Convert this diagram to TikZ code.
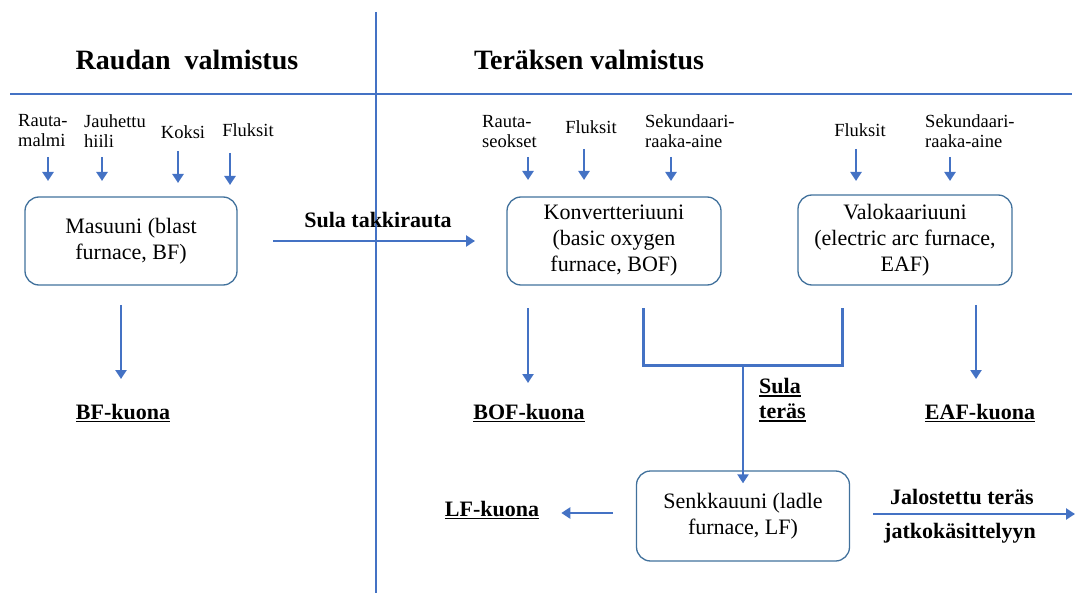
\documentclass[tikz,border=0pt]{standalone}
\usepackage{fontspec}
\setmainfont{Liberation Serif}
\newcommand{\myul}[1]{\setbox0\hbox{#1}\leavevmode\rlap{\rule[-3pt]{\wd0}{1.2pt}}\box0}
\usetikzlibrary{arrows.meta}
\definecolor{lineblue}{HTML}{4472C4}
\definecolor{boxblue}{HTML}{41719C}
\begin{document}
\begin{tikzpicture}[x=1pt,y=-1pt,
  arr/.style={lineblue, line width=2.5pt, -{Triangle[length=9pt,width=11pt]}},
  sep/.style={lineblue, line width=1.4pt},
  furnace/.style={draw=boxblue, line width=1.3pt, rounded corners=14pt, align=center,
     font=\fontsize{22}{26}\selectfont, inner sep=0pt},
  small/.style={align=left, font=\fontsize{18.5}{20}\selectfont, inner sep=0pt},
  titletext/.style={font=\bfseries\fontsize{28}{30}\selectfont, inner sep=0pt},
  slag/.style={font=\bfseries\fontsize{22}{25}\selectfont, inner sep=0pt},
]
\useasboundingbox (0,0) rectangle (1075,593);

% separators
\coordinate (hl) at (10,94);
\coordinate (hr) at (1072,94);
\coordinate (vt) at (376,12);
\coordinate (vb) at (376,593);
\draw[sep] (hl) -- (hr);
\draw[sep] (vt) -- (vb);

% titles
\node[titletext] (t1) at (187,60) {Raudan\ \ valmistus};
\node[titletext] (t2) at (589,60) {Teräksen valmistus};

% furnaces
\node[furnace, minimum width=212pt, minimum height=88pt] (bf) at (131,241) {Masuuni (blast\\furnace, BF)};
\node[furnace, minimum width=214pt, minimum height=88pt] (bof) at (614,241) {Konvertteriuuni\\(basic oxygen\\furnace, BOF)};
\node[furnace, minimum width=214pt, minimum height=90pt] (eaf) at (905,240) {Valokaariuuni\\(electric arc furnace,\\EAF)};
\node[furnace, minimum width=213pt, minimum height=90pt] (lf) at (743,516) {Senkkauuni (ladle\\furnace, LF)};

% inputs, iron making
\node[small, anchor=west] (rm) at (18,131) {Rauta-\\malmi};
\node[small, anchor=west] (jh) at (84,131) {Jauhettu\\hiili};
\node[small] (ko) at (183,132) {Koksi};
\node[small] (fl1) at (248,130) {Fluksit};
% inputs, BOF
\node[small, anchor=west] (rs) at (482,132) {Rauta-\\seokset};
\node[small] (fl2) at (591,127) {Fluksit};
\node[small, anchor=west] (sr1) at (645,131) {Sekundaari-\\raaka-aine};
% inputs, EAF
\node[small] (fl3) at (860,130) {Fluksit};
\node[small, anchor=west] (sr2) at (925,131) {Sekundaari-\\raaka-aine};

% input arrows
\coordinate (rm-a) at (48,157);  \coordinate (rm-b) at (48,181);
\coordinate (jh-a) at (102,157); \coordinate (jh-b) at (102,181);
\coordinate (ko-a) at (178,151); \coordinate (ko-b) at (178,183);
\coordinate (fl1-a) at (230,153); \coordinate (fl1-b) at (230,185);
\coordinate (rs-a) at (528,157); \coordinate (rs-b) at (528,180);
\coordinate (fl2-a) at (584,149); \coordinate (fl2-b) at (584,180);
\coordinate (sr1-a) at (671,157); \coordinate (sr1-b) at (671,181);
\coordinate (fl3-a) at (856,149); \coordinate (fl3-b) at (856,181);
\coordinate (sr2-a) at (950,157); \coordinate (sr2-b) at (950,181);
\foreach \n in {rm,jh,ko,fl1,rs,fl2,sr1,fl3,sr2}{\draw[arr] (\n-a) -- (\n-b);}

% molten pig iron
\coordinate (pig-a) at (273,241);
\coordinate (pig-b) at (475,241);
\draw[arr] (pig-a) -- (pig-b);
\node[slag] (pig) at (378,220) {Sula takkirauta};

% slags
\node[slag] (bfs) at (123,413) {\myul{BF-kuona}};
\node[slag] (bofs) at (529,413) {\myul{BOF-kuona}};
\node[slag] (eafs) at (980,413) {\myul{EAF-kuona}};
\node[slag] (lfs) at (492,510) {\myul{LF-kuona}};

\coordinate (bfs-a) at (121,305); \coordinate (bfs-b) at (121,379);
\coordinate (bofs-a) at (528,308); \coordinate (bofs-b) at (528,383);
\coordinate (eafs-a) at (976,305); \coordinate (eafs-b) at (976,379);
\draw[arr] (bfs-a) -- (bfs-b);
\draw[arr] (bofs-a) -- (bofs-b);
\draw[arr] (eafs-a) -- (eafs-b);

% molten steel
\coordinate (bofR) at (643,308);
\coordinate (eafL) at (842,308);
\coordinate (junc) at (743,365);
\draw[lineblue, line width=3pt] (bofR) |- (junc) -| (eafL);
\draw[arr] (junc) -- ([yshift=-13pt]lf.north);
\node[slag, align=left, anchor=west] (st) at (759,400) {\myul{Sula}\\\myul{teräs}};

% ladle furnace outputs
\coordinate (lf-a) at (613,513);
\draw[arr] (lf-a) -- ([xshift=22pt]lfs.east |- lf-a);
\coordinate (out-a) at (873,514);
\coordinate (out-b) at (1075,514);
\draw[arr] (out-a) -- (out-b);
\node[slag] (ref1) at (962,497) {Jalostettu teräs};
\node[slag] (ref2) at (960,533) {jatkokäsittelyyn};
\end{tikzpicture}
\end{document}
